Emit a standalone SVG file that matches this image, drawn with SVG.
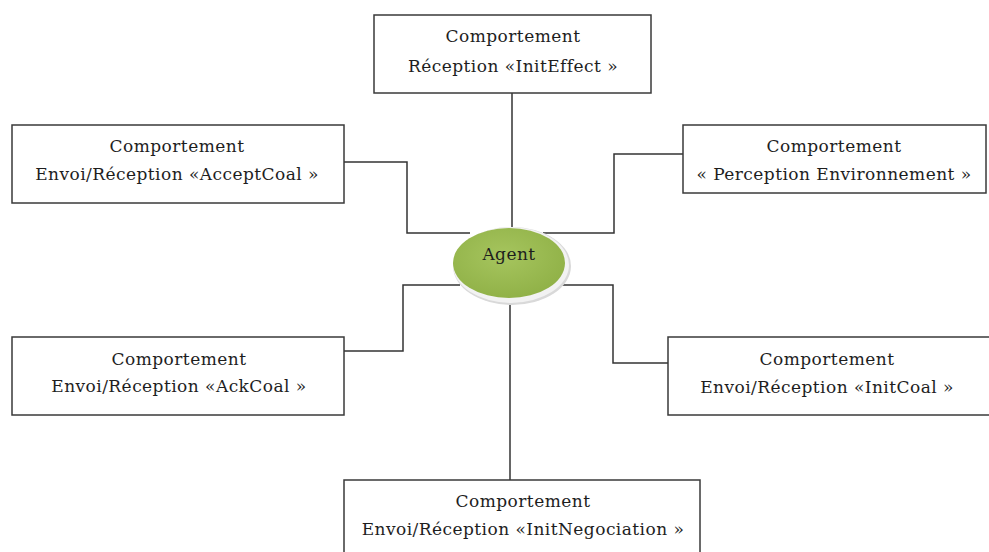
<svg xmlns="http://www.w3.org/2000/svg" width="989" height="552" viewBox="0 0 989 552">
<defs>
<style>
.box{fill:#fff;stroke:#3a3a3a;stroke-width:1.5}
.t{font-family:'DejaVu Serif','Liberation Serif',serif;font-size:17px;fill:#1e1e1e;text-anchor:middle;letter-spacing:0.45px}
.c{fill:none;stroke:#333;stroke-width:1.5}
</style>
<radialGradient id="g" cx="0.45" cy="0.4" r="0.65">
<stop offset="0" stop-color="#a6c55e"/>
<stop offset="1" stop-color="#8fb046"/>
</radialGradient>
</defs>
<rect width="989" height="552" fill="#fff"/>
<g id="connectors">
<path class="c" d="M512 93 V230"/>
<path class="c" d="M344 162 H407 V233 H470"/>
<path class="c" d="M543 233 H614 V154 H683"/>
<path class="c" d="M460 285 H403 V351 H344"/>
<path class="c" d="M556 285 H613 V363 H668"/>
<path class="c" d="M510 296 V480"/>
</g>
<g id="agent">
<ellipse cx="512" cy="266" rx="59" ry="39" fill="#d9d9d9"/>
<ellipse cx="511" cy="265" rx="58" ry="38" fill="#f2f2f2"/>
<ellipse cx="509" cy="263" rx="56" ry="35" fill="url(#g)"/>
<text class="t" x="509" y="260">Agent</text>
</g>
<g id="n-initeffect">
<rect class="box" x="374" y="15" width="277" height="78"/>
<text class="t" x="513" y="42">Comportement</text>
<text class="t" x="513" y="72">Réception «InitEffect »</text>
</g>
<g id="n-acceptcoal">
<rect class="box" x="12" y="125" width="332" height="78"/>
<text class="t" x="177" y="152">Comportement</text>
<text class="t" x="177" y="180">Envoi/Réception «AcceptCoal »</text>
</g>
<g id="n-perception">
<rect class="box" x="683" y="125" width="303" height="68"/>
<text class="t" x="834" y="152">Comportement</text>
<text class="t" x="834" y="180">« Perception Environnement »</text>
</g>
<g id="n-ackcoal">
<rect class="box" x="12" y="337" width="332" height="78"/>
<text class="t" x="179" y="365">Comportement</text>
<text class="t" x="179" y="392">Envoi/Réception «AckCoal »</text>
</g>
<g id="n-initcoal">
<rect class="box" x="668" y="337" width="330" height="78"/>
<text class="t" x="827" y="365">Comportement</text>
<text class="t" x="827" y="393">Envoi/Réception «InitCoal »</text>
</g>
<g id="n-initnegociation">
<rect class="box" x="344" y="480" width="356" height="90"/>
<text class="t" x="523" y="507">Comportement</text>
<text class="t" x="523" y="535">Envoi/Réception «InitNegociation »</text>
</g>
</svg>
